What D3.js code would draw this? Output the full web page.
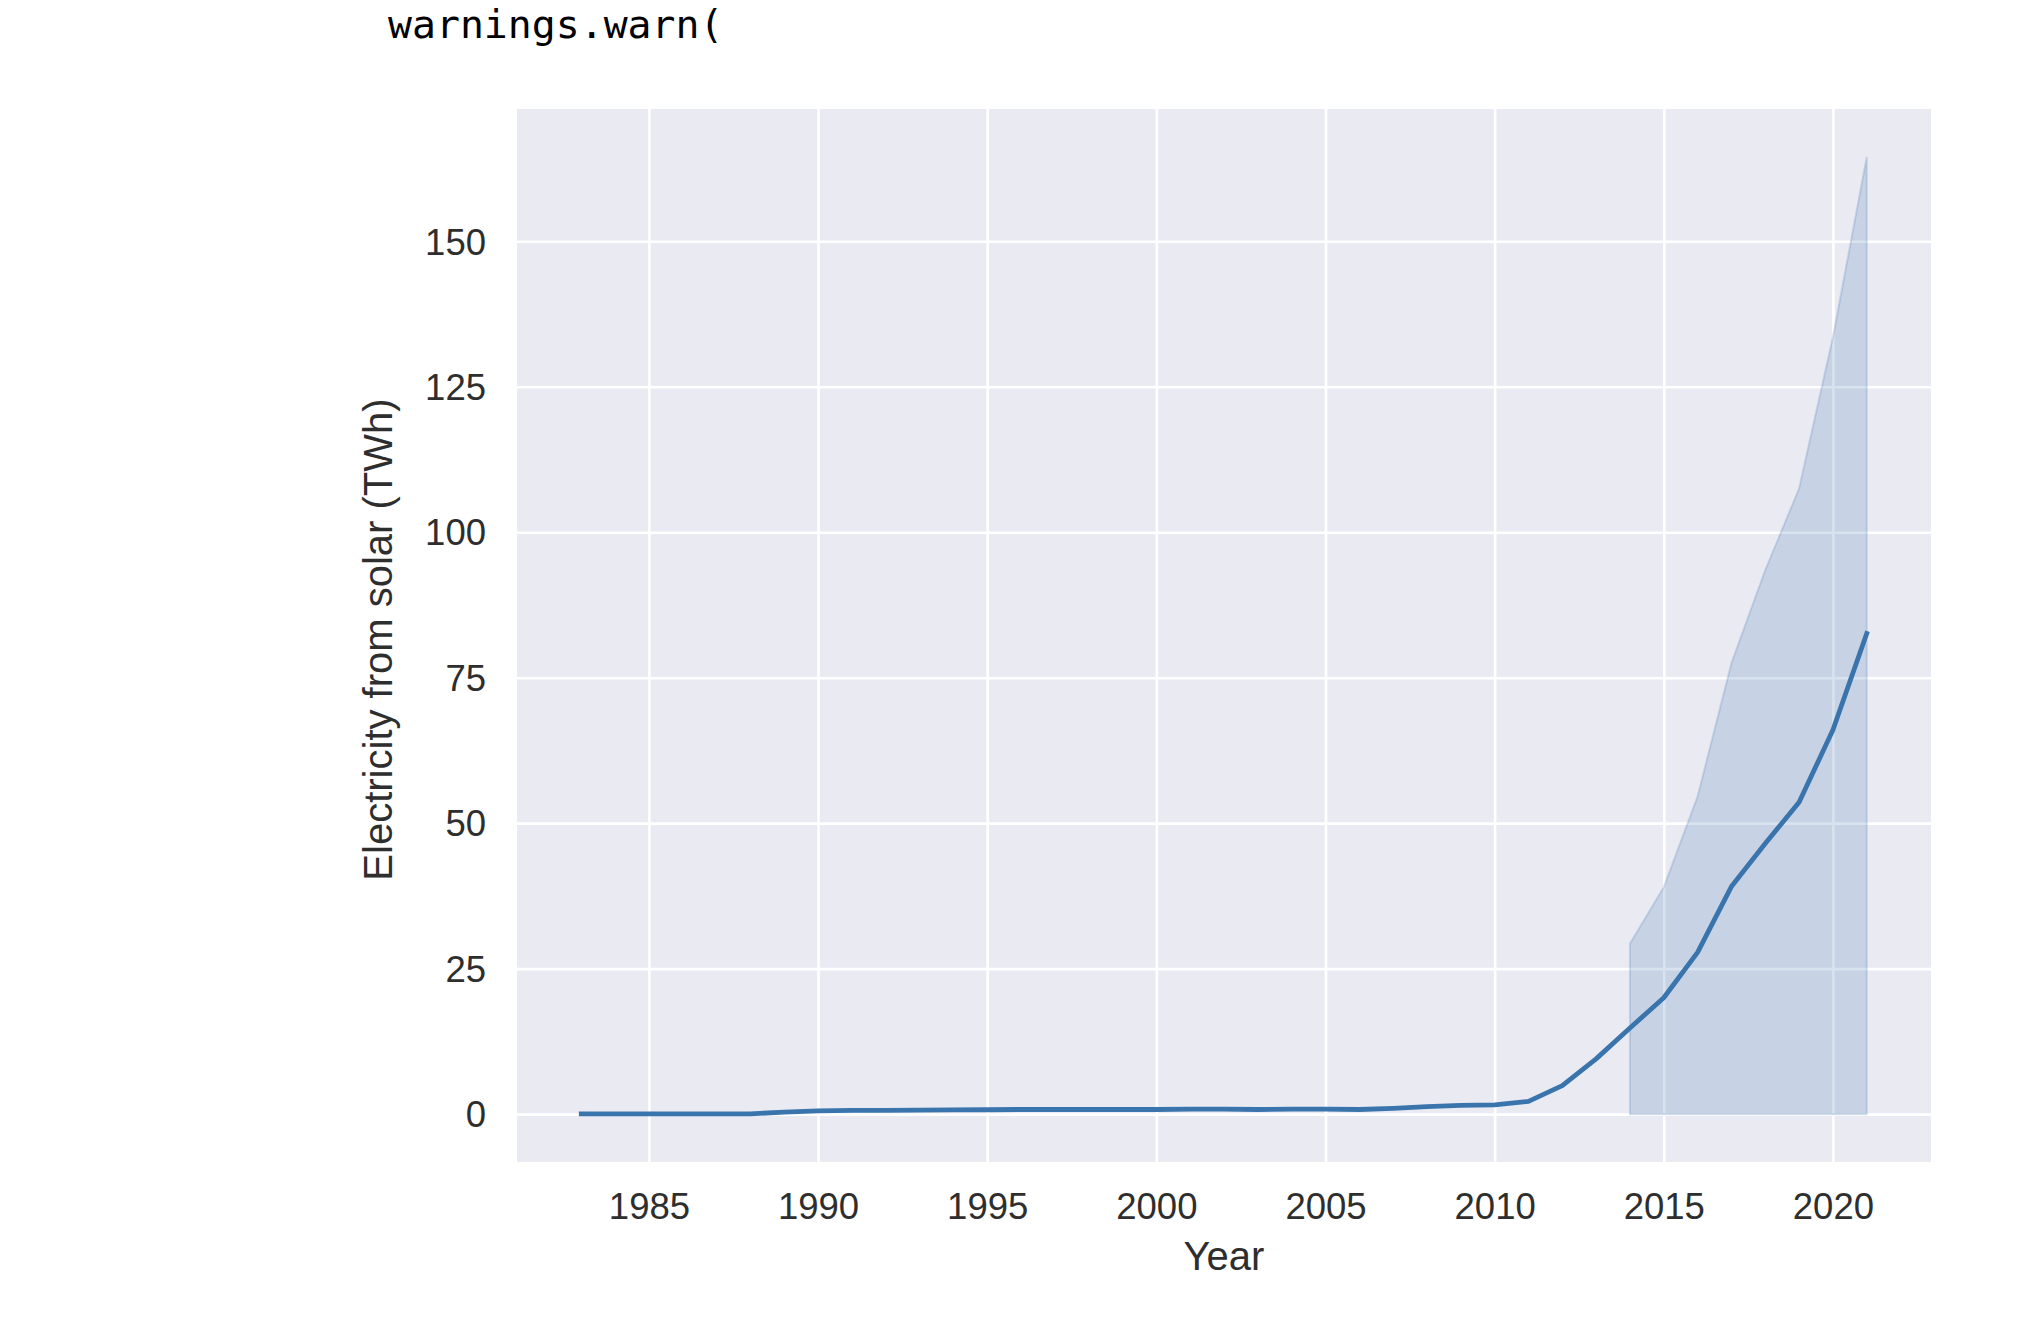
<!DOCTYPE html>
<html>
<head>
<meta charset="utf-8">
<script src="https://cdn.jsdelivr.net/npm/d3@7"></script>
<style>
	body { margin:0; background:#ffffff; }
	svg text { font-family:"Liberation Sans", Arial, sans-serif; fill:#2e2e2e; }
</style>
</head>
<body>
<div id="chart"></div>
<script>
////////////////////////////////////////////////////
// data
////////////////////////////////////////////////////
var years = [1983,1984,1985,1986,1987,1988,1989,1990,1991,1992,1993,1994,1995,1996,1997,1998,1999,2000,
	2001,2002,2003,2004,2005,2006,2007,2008,2009,2010,2011,2012,2013,2014,2015,2016,2017,2018,2019,2020,2021];
var solarMean = [0.05,0.05,0.05,0.05,0.05,0.05,0.35,0.55,0.65,0.65,0.7,0.72,0.75,0.8,0.8,0.8,0.8,0.8,
	0.85,0.85,0.8,0.85,0.85,0.8,1.0,1.3,1.5,1.6,2.2,4.9,9.5,14.8,20.0,27.8,39.1,46.5,53.6,66.0,82.6];

// confidence band (only drawn from 2014 on)
var bandYears = [2014,2015,2016,2017,2018,2019,2020,2021];
var bandLow = [0,0,0,0,0,0,0,0];
var bandHigh = [29.3,39.0,54.6,77.5,93.5,107.5,133.5,164.5];

var xTicks = [1985,1990,1995,2000,2005,2010,2015,2020];
var yTicks = [0,25,50,75,100,125,150];

var xLabel = "Year";
var yLabel = "Electricity from solar (TWh)";
var warnText = "warnings.warn(";
////////////////////////////////////////////////////

function buildD3_SolarLine(theId) {
	var totalW = 2042, totalH = 1326;
	var left = 517, right = 1931, top = 109, bottom = 1162;
	var lineColor = "#3a74ad";

	var svgvis = d3.select("#"+theId).append("svg:svg")
		.attr("width", totalW)
		.attr("height", totalH);

	// matplotlib style 5% margins
	var xMin = d3.min(years), xMax = d3.max(years);
	var xPad = (xMax - xMin) * 0.05;
	var yMin = 0, yMax = d3.max(bandHigh);
	var yPad = (yMax - yMin) * 0.05;

	var x = d3.scaleLinear().domain([xMin - xPad, xMax + xPad]).range([left, right]);
	var y = d3.scaleLinear().domain([yMin - yPad, yMax + yPad]).range([bottom, top]);

	svgvis.append("svg:text")
		.attr("x", 388)
		.attr("y", 38)
		.style("font-family", "'DejaVu Sans Mono', monospace")
		.style("font-size", "39.8px")
		.style("fill", "#000000")
		.text(warnText);

	svgvis.append("svg:rect")
		.attr("x", left)
		.attr("y", top)
		.attr("width", right - left)
		.attr("height", bottom - top)
		.attr("fill", "#eaeaf2");

	// grid via axes
	var gx = svgvis.append("svg:g")
		.attr("transform", "translate(0," + bottom + ")")
		.call(d3.axisBottom(x).tickValues(xTicks).tickSize(-(bottom - top)).tickFormat(function(d){return d;}).tickPadding(31));
	var gy = svgvis.append("svg:g")
		.attr("transform", "translate(" + left + ",0)")
		.call(d3.axisLeft(y).tickValues(yTicks).tickSize(-(right - left)).tickPadding(31));

	[gx, gy].forEach(function(g) {
		g.select(".domain").remove();
		g.selectAll(".tick line").attr("stroke", "#ffffff").attr("stroke-width", 2.6);
		g.selectAll(".tick text")
			.style("font-size", "36.5px")
			.style("fill", "#2e2e2e")
			.style("font-family", "'Liberation Sans', Arial, sans-serif");
	});
	gx.selectAll(".tick text").attr("dy", "0.71em");
	gy.selectAll(".tick text").attr("dy", "0.35em");

	// band
	var bandData = bandYears.map(function(d,i){ return {year:d, lo:bandLow[i], hi:bandHigh[i]}; });
	var area = d3.area()
		.x(function(d){ return x(d.year); })
		.y0(function(d){ return y(d.lo); })
		.y1(function(d){ return y(d.hi); });
	svgvis.append("svg:path")
		.datum(bandData)
		.attr("d", area)
		.attr("fill", lineColor)
		.attr("fill-opacity", 0.2)
		.attr("stroke", lineColor)
		.attr("stroke-opacity", 0.2)
		.attr("stroke-width", 2);

	// mean line
	var lineData = years.map(function(d,i){ return {year:d, v:solarMean[i]}; });
	var line = d3.line()
		.x(function(d){ return x(d.year); })
		.y(function(d){ return y(d.v); });
	svgvis.append("svg:path")
		.datum(lineData)
		.attr("d", line)
		.attr("fill", "none")
		.attr("stroke", lineColor)
		.attr("stroke-width", 4.8)
		.attr("stroke-linejoin", "round")
		.attr("stroke-linecap", "square");

	// axis labels
	svgvis.append("svg:text")
		.attr("x", (left + right) / 2)
		.attr("y", 1270)
		.attr("text-anchor", "middle")
		.style("font-size", "40px")
		.text(xLabel);

	svgvis.append("svg:text")
		.attr("transform", "translate(392," + ((top + bottom) / 2 + 4) + ") rotate(-90)")
		.attr("text-anchor", "middle")
		.style("font-size", "40px")
		.text(yLabel);
};

buildD3_SolarLine("chart");
</script>
</body>
</html>
